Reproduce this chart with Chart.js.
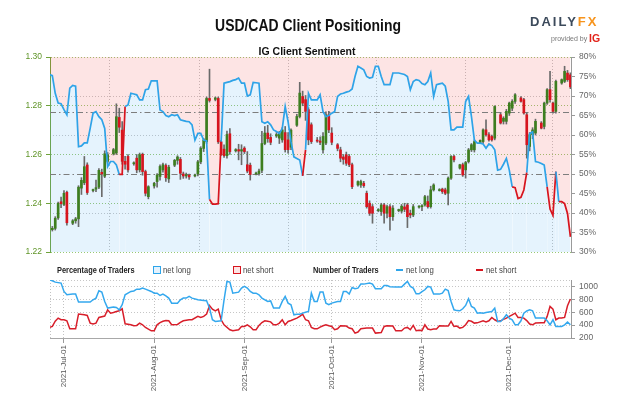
<!DOCTYPE html>
<html><head><meta charset="utf-8">
<script src="https://cdn.jsdelivr.net/npm/chart.js@4.4.1/dist/chart.umd.min.js"></script>
<style>
html,body{margin:0;padding:0;background:#fff;}
#wrap{position:relative;width:624px;height:416px;overflow:hidden;background:#fff;}
canvas{position:absolute;left:0;top:0;}
.t{position:absolute;white-space:nowrap;line-height:1;font-family:'Liberation Sans',Arial,sans-serif;}
.n{transform-origin:0 50%;transform:scaleX(0.82);}
.sw{position:absolute;box-sizing:border-box;}
</style></head><body>
<div id="wrap">
<canvas id="c1" width="624" height="416"></canvas>
<canvas id="c2" width="624" height="416"></canvas>
<div class="t" style="left:307.5px;top:16.5px;transform:translateX(-50%) scaleX(0.82);font-size:17px;font-weight:bold;color:#111;">USD/CAD Client Positioning</div>
<div class="t" style="left:307px;top:45.5px;transform:translateX(-50%);font-size:10.5px;font-weight:bold;color:#111;">IG Client Sentiment</div>
<div class="t" style="left:530px;top:15px;font-size:13px;font-weight:bold;letter-spacing:2px;color:#3c4a5b;">DAILY<span style="color:#f7941d">FX</span></div>
<div class="t" style="left:551px;top:34.5px;font-size:7px;color:#777;">provided by</div>
<div class="t" style="left:589px;top:32.5px;font-size:10.5px;font-weight:bold;color:#e2231a;">IG</div>

<div class="t n" style="left:57px;top:265.5px;font-size:9px;font-weight:bold;color:#222;">Percentage of Traders</div>
<div class="sw" style="left:153px;top:266px;width:8px;height:8px;border:1.5px solid #2da5ea;background:#e4f2fd;"></div>
<div class="t n" style="left:163px;top:265.2px;font-size:9.5px;color:#444;">net long</div>
<div class="sw" style="left:233px;top:266px;width:8px;height:8px;border:1.5px solid #d7141e;background:#fde4e4;"></div>
<div class="t n" style="left:243px;top:265.2px;font-size:9.5px;color:#444;">net short</div>
<div class="t n" style="left:313px;top:265.5px;font-size:9px;font-weight:bold;color:#222;">Number of Traders</div>
<div class="sw" style="left:396px;top:269px;width:7px;height:2px;background:#2da5ea;"></div>
<div class="t n" style="left:406px;top:265.2px;font-size:9.5px;color:#444;">net long</div>
<div class="sw" style="left:476px;top:269px;width:7px;height:2px;background:#d7141e;"></div>
<div class="t n" style="left:486px;top:265.2px;font-size:9.5px;color:#444;">net short</div>
</div>
<script>
// ---------------- DATA ----------------
const monthTickDates = ['07-01','08-01','09-01','10-01','11-01','12-01'];
const monthTickLabels = ['2021-Jul-01','2021-Aug-01','2021-Sep-01','2021-Oct-01','2021-Nov-01','2021-Dec-01'];
const priceTicks = [1.22,1.24,1.26,1.28,1.30];
const pctTicks = [30,35,40,45,50,55,60,65,70,75,80];
const pctGrid = [40,60,70];
const pctRefLines = [50,66];
const countTicks = [200,400,600,800,1000];

// USD/CAD daily candles (2021)
const candleDates = [
'06-27','06-28','06-29','06-30','07-01','07-02',
'07-04','07-05','07-06','07-07','07-08','07-09',
'07-11','07-12','07-13','07-14','07-15','07-16',
'07-18','07-19','07-20','07-21','07-22','07-23',
'07-25','07-26','07-27','07-28','07-29','07-30',
'08-01','08-02','08-03','08-04','08-05','08-06',
'08-08','08-09','08-10','08-11','08-12','08-13',
'08-15','08-16','08-17','08-18','08-19','08-20',
'08-22','08-23','08-24','08-25','08-26','08-27',
'08-29','08-30','08-31','09-01','09-02','09-03',
'09-05','09-06','09-07','09-08','09-09','09-10',
'09-12','09-13','09-14','09-15','09-16','09-17',
'09-19','09-20','09-21','09-22','09-23','09-24',
'09-26','09-27','09-28','09-29','09-30','10-01',
'10-03','10-04','10-05','10-06','10-07','10-08',
'10-10','10-11','10-12','10-13','10-14','10-15',
'10-17','10-18','10-19','10-20','10-21','10-22',
'10-24','10-25','10-26','10-27','10-28','10-29',
'10-31','11-01','11-02','11-03','11-04','11-05',
'11-07','11-08','11-09','11-10','11-11','11-12',
'11-14','11-15','11-16','11-17','11-18','11-19',
'11-21','11-22','11-23','11-24','11-25','11-26',
'11-28','11-29','11-30','12-01','12-02','12-03',
'12-05','12-06','12-07','12-08','12-09','12-10',
'12-12','12-13','12-14','12-15','12-16','12-17',
'12-19','12-20','12-21','12-22'];
const candleOpen = [
1.2292,1.2297,1.2340,1.2406,1.2395,1.2445,
1.2318,1.2328,1.2336,1.2462,1.2484,1.2557,
1.2452,1.2458,1.2466,1.2527,1.2511,1.2572,
1.2603,1.2606,1.2752,1.2700,1.2572,1.2592,
1.2562,1.2585,1.2537,1.2601,1.2530,1.2427,
1.2471,1.2489,1.2510,1.2537,1.2555,1.2500,
1.2556,1.2576,1.2580,1.2520,1.2512,1.2515,
1.2512,1.2520,1.2570,1.2625,1.2652,1.2830,
1.2826,1.2830,1.2652,1.2622,1.2595,1.2685,
1.2615,1.2620,1.2614,1.2626,1.2558,1.2556,
1.2520,1.2522,1.2535,1.2645,1.2688,1.2670,
1.2676,1.2667,1.2660,1.2690,1.2660,1.2630,
1.2720,1.2756,1.2838,1.2825,1.2784,1.2722,
1.2658,1.2655,1.2619,1.2647,1.2763,1.2688,
1.2640,1.2619,1.2590,1.2599,1.2592,1.2558,
1.2475,1.2475,1.2482,1.2441,1.2400,1.2386,
1.2370,1.2366,1.2393,1.2359,1.2386,1.2345,
1.2370,1.2368,1.2385,1.2393,1.2359,1.2352,
1.2384,1.2386,1.2393,1.2407,1.2386,1.2455,
1.2452,1.2458,1.2455,1.2441,1.2503,1.2592,
1.2544,1.2558,1.2537,1.2571,1.2619,1.2619,
1.2649,1.2653,1.2701,1.2681,1.2674,1.2667,
1.2763,1.2736,1.2736,1.2770,1.2790,1.2818,
1.2832,1.2825,1.2763,1.2633,1.2681,1.2688,
1.2729,1.2715,1.2811,1.2866,1.2811,1.2777,
1.2893,1.2900,1.2934,1.2927];
const candleHigh = [
1.2305,1.2345,1.2405,1.2425,1.2452,1.2450,
1.2333,1.2342,1.2472,1.2505,1.2592,1.2566,
1.2458,1.2495,1.2542,1.2540,1.2615,1.2608,
1.2625,1.2808,1.2790,1.2735,1.2592,1.2600,
1.2570,1.2600,1.2606,1.2606,1.2536,1.2472,
1.2486,1.2522,1.2558,1.2565,1.2562,1.2556,
1.2580,1.2595,1.2588,1.2528,1.2524,1.2520,
1.2520,1.2576,1.2632,1.2666,1.2836,1.2950,
1.2836,1.2836,1.2658,1.2640,1.2696,1.2706,
1.2624,1.2642,1.2640,1.2632,1.2612,1.2565,
1.2528,1.2540,1.2695,1.2715,1.2720,1.2685,
1.2690,1.2695,1.2710,1.2715,1.2690,1.2705,
1.2765,1.2896,1.2860,1.2842,1.2792,1.2730,
1.2670,1.2672,1.2690,1.2775,1.2777,1.2710,
1.2645,1.2630,1.2600,1.2610,1.2600,1.2565,
1.2492,1.2495,1.2490,1.2450,1.2410,1.2395,
1.2378,1.2400,1.2400,1.2392,1.2395,1.2390,
1.2376,1.2395,1.2400,1.2400,1.2372,1.2395,
1.2390,1.2395,1.2432,1.2430,1.2470,1.2480,
1.2460,1.2462,1.2462,1.2508,1.2596,1.2598,
1.2560,1.2565,1.2572,1.2625,1.2645,1.2660,
1.2660,1.2705,1.2742,1.2690,1.2680,1.2800,
1.2770,1.2755,1.2785,1.2815,1.2825,1.2850,
1.2838,1.2830,1.2770,1.2690,1.2710,1.2745,
1.2735,1.2815,1.2870,1.2941,1.2815,1.2905,
1.2910,1.2962,1.2945,1.2935];
const candleLow = [
1.2286,1.2290,1.2334,1.2382,1.2390,1.2310,
1.2312,1.2318,1.2304,1.2436,1.2476,1.2436,
1.2446,1.2447,1.2460,1.2427,1.2505,1.2565,
1.2598,1.2600,1.2690,1.2560,1.2540,1.2528,
1.2556,1.2525,1.2528,1.2515,1.2430,1.2418,
1.2462,1.2466,1.2495,1.2528,1.2490,1.2485,
1.2550,1.2560,1.2498,1.2502,1.2503,1.2498,
1.2508,1.2512,1.2562,1.2612,1.2645,1.2815,
1.2820,1.2645,1.2596,1.2588,1.2585,1.2600,
1.2610,1.2578,1.2558,1.2604,1.2525,1.2495,
1.2516,1.2515,1.2525,1.2640,1.2650,1.2640,
1.2670,1.2645,1.2650,1.2610,1.2605,1.2620,
1.2715,1.2750,1.2800,1.2740,1.2640,1.2645,
1.2650,1.2640,1.2605,1.2640,1.2690,1.2640,
1.2615,1.2570,1.2560,1.2555,1.2550,1.2460,
1.2470,1.2465,1.2465,1.2380,1.2350,1.2318,
1.2365,1.2350,1.2318,1.2340,1.2290,1.2330,
1.2365,1.2360,1.2365,1.2300,1.2340,1.2345,
1.2380,1.2370,1.2388,1.2380,1.2380,1.2450,
1.2450,1.2440,1.2435,1.2393,1.2498,1.2570,
1.2540,1.2510,1.2503,1.2565,1.2612,1.2610,
1.2645,1.2645,1.2675,1.2655,1.2655,1.2660,
1.2725,1.2725,1.2725,1.2760,1.2780,1.2810,
1.2815,1.2765,1.2585,1.2615,1.2665,1.2680,
1.2705,1.2705,1.2805,1.2815,1.2770,1.2770,
1.2888,1.2895,1.2900,1.2870];
const candleClose = [
1.2297,1.2338,1.2400,1.2398,1.2441,1.2320,
1.2328,1.2336,1.2466,1.2494,1.2550,1.2444,
1.2455,1.2464,1.2535,1.2520,1.2603,1.2598,
1.2620,1.2755,1.2712,1.2572,1.2560,1.2537,
1.2565,1.2537,1.2599,1.2530,1.2441,1.2468,
1.2482,1.2516,1.2551,1.2558,1.2505,1.2548,
1.2576,1.2590,1.2523,1.2512,1.2517,1.2508,
1.2516,1.2570,1.2625,1.2660,1.2830,1.2822,
1.2832,1.2652,1.2600,1.2595,1.2682,1.2612,
1.2620,1.2614,1.2620,1.2612,1.2532,1.2518,
1.2524,1.2532,1.2645,1.2688,1.2665,1.2650,
1.2682,1.2688,1.2701,1.2620,1.2620,1.2700,
1.2756,1.2852,1.2811,1.2777,1.2660,1.2653,
1.2655,1.2650,1.2674,1.2763,1.2701,1.2650,
1.2625,1.2585,1.2580,1.2564,1.2558,1.2468,
1.2489,1.2489,1.2472,1.2386,1.2359,1.2359,
1.2374,1.2393,1.2359,1.2386,1.2345,1.2380,
1.2373,1.2388,1.2375,1.2345,1.2352,1.2386,
1.2387,1.2390,1.2427,1.2386,1.2455,1.2475,
1.2455,1.2448,1.2441,1.2503,1.2592,1.2578,
1.2558,1.2516,1.2567,1.2619,1.2640,1.2653,
1.2658,1.2701,1.2681,1.2660,1.2660,1.2797,
1.2729,1.2749,1.2777,1.2811,1.2818,1.2845,
1.2818,1.2770,1.2640,1.2681,1.2701,1.2736,
1.2708,1.2811,1.2866,1.2825,1.2777,1.2900,
1.2907,1.2941,1.2907,1.2877];

// IG client sentiment: % of traders net long, daily from 2021-06-26
const sentimentStart = '06-26';
const sentimentPct = [
75.5,75.2,70.7,68.2,68.0,66.5,65.2,72.0,72.7,72.5,
57.0,57.2,58.0,58.0,61.7,65.6,66.0,64.7,63.9,61.7,
51.9,53.2,53.2,52.3,49.9,49.9,67.3,67.7,70.7,70.5,
70.3,69.0,69.0,71.6,71.8,73.9,73.9,73.9,66.4,66.0,
65.0,64.7,65.2,65.0,65.2,63.9,63.7,63.5,63.4,62.6,
58.7,60.4,60.4,58.7,58.5,43.5,42.3,42.3,42.4,58.3,
73.3,73.5,73.7,74.0,74.2,74.6,73.3,73.3,70.0,70.3,
73.5,73.4,73.3,63.4,63.0,63.4,62.6,61.3,60.9,60.4,
61.7,67.3,63.4,58.3,54.4,54.0,53.6,49.5,56.2,70.7,
69.0,69.0,69.0,70.3,66.0,64.7,65.0,65.6,66.0,69.9,
70.5,70.7,71.0,71.2,71.8,75.0,77.6,77.2,76.7,75.0,
74.6,74.8,77.6,77.6,75.0,72.9,72.9,72.9,75.9,75.9,
75.9,75.7,75.5,75.0,71.6,73.7,74.2,74.0,73.2,72.9,
73.7,75.9,69.9,72.9,73.1,73.3,72.5,68.6,61.3,61.3,
62.0,62.0,62.0,68.6,69.9,64.7,58.7,57.9,57.9,57.7,
56.6,57.7,57.3,56.2,51.0,51.2,52.5,54.0,51.0,46.7,
46.5,43.7,44.0,45.9,50.4,60.4,60.8,53.2,53.0,52.7,
52.3,46.7,41.0,39.4,50.6,42.9,42.9,42.4,39.9,33.9];

// Number of traders (days after 2021-07-01)
const longDays = [-5,-4,-3,-1,0,1,3,4,5,7,9,10,11,12,13,14,15,17,18,19,20,21,23,24,25,26,27,28,30,31,32,33,34,35,36,37,39,40,41,42,43,44,46,48,49,50,51,52,54,55,56,57,58,60,61,62,63,64,65,66,67,68,70,71,72,74,75,76,77,78,79,80,81,82,83,84,85,86,87,88,89,90,91,92,94,95,96,97,98,99,100,101,102,103,105,106,107,109,110,111,112,114,116,117,118,119,120,121,122,123,124,125,126,127,129,130,131,132,133,134,135,136,137,138,139,140,141,142,143,144,145,147,148,149,150,151,152,153,154,155,156,157,158,159,160,161,162,164,165,166,167,168,169,171,172,173,174];
const longCount = [1103,1088,1067,1052,922,871,881,881,757,757,757,793,819,933,912,767,664,679,674,638,716,871,922,930,958,958,974,958,922,896,896,860,881,855,819,741,741,793,819,819,845,819,793,783,778,664,483,457,467,793,1077,1067,896,912,974,1000,974,922,896,896,871,819,767,775,664,664,767,845,741,716,560,570,570,586,600,612,896,767,767,912,912,741,716,741,767,767,922,922,881,984,964,974,1036,1036,1052,1036,964,964,1015,1015,995,990,990,1036,1077,1000,974,886,886,920,948,1000,990,881,881,896,958,938,767,638,625,622,653,705,809,690,664,586,590,586,597,612,664,457,457,500,560,509,483,405,405,467,586,620,638,622,509,509,509,467,405,483,380,380,405,447,405];
const shortDays = [-5,-4,-3,-2,-1,0,1,2,4,5,7,8,9,10,11,12,14,15,16,17,18,19,20,21,23,24,25,26,27,28,30,31,32,33,34,35,36,37,39,40,41,43,44,46,47,48,49,50,51,52,53,54,55,57,58,60,61,62,63,64,65,66,67,68,69,70,71,72,73,74,75,76,77,78,80,81,82,83,84,85,86,87,88,89,90,91,92,93,94,95,97,98,99,100,101,102,104,106,107,109,110,111,113,114,116,117,118,119,120,121,122,123,124,125,126,127,128,129,131,132,133,134,135,136,137,138,139,140,141,142,144,145,146,147,148,149,150,151,152,153,154,155,156,157,158,159,160,161,162,164,165,166,167,168,169,170,171,172,173,174];
const shortCount = [364,380,460,509,483,483,467,343,343,571,560,550,431,416,431,519,540,638,586,597,610,622,653,421,405,390,395,431,405,364,312,312,405,440,460,472,467,405,410,441,467,483,483,535,519,535,570,705,648,622,648,483,405,328,312,328,380,380,405,374,328,328,395,440,467,460,450,405,405,431,483,405,457,472,509,535,571,483,467,364,343,343,370,390,405,390,380,328,343,390,385,354,343,276,292,343,354,354,276,286,380,390,385,312,312,354,364,328,395,312,320,315,405,340,328,340,340,390,385,385,457,380,385,354,365,405,470,460,431,435,467,450,467,519,483,457,467,490,509,535,560,586,519,519,509,470,416,405,431,435,435,535,690,648,483,509,509,520,700,804];

// ---------------- BUILD ----------------
const FONT = "'Liberation Sans',Arial,sans-serif";
Chart.defaults.font.family = FONT;
Chart.defaults.font.size = 8;
Chart.defaults.color = '#666';
const X_MIN = -4.8, X_MAX = 174.2;
const BLUE = '#2ea3e8', RED = '#d7141e', GREEN = '#3d7e1f', WICK = '#6a6a6a';
const DAY0 = Date.UTC(2021, 6, 1);
const dayOf = s => { const [m, d] = s.split('-').map(Number); return Math.round((Date.UTC(2021, m - 1, d) - DAY0) / 864e5); };
const monthDays = monthTickDates.map(dayOf);
const candleX = candleDates.map(dayOf);
const wickData = candleX.map((x, i) => ({x, y: [candleLow[i], candleHigh[i]]}));
const bodyData = candleX.map((x, i) => ({x, y: [candleOpen[i], candleClose[i]]}));
const s0 = dayOf(sentimentStart);
const sentData = sentimentPct.map((v, i) => ({x: s0 + i, y: v}));
const longData = longDays.map((x, i) => ({x, y: longCount[i]}));
const shortData = shortDays.map((x, i) => ({x, y: shortCount[i]}));
const asTicks = arr => arr.map(v => ({value: v}));
const monthLabel = v => { const i = monthDays.indexOf(v); return i >= 0 ? monthTickLabels[i] : ''; };

const refPlugin = {
  id: 'refLines',
  beforeDatasetsDraw(chart) {
    const {ctx, chartArea: a, scales} = chart;
    ctx.save();
    ctx.strokeStyle = '#7d7d7d'; ctx.lineWidth = 1.2; ctx.setLineDash([6, 3, 1.5, 3]);
    pctRefLines.forEach(v => {
      const y = Math.round(scales.pct.getPixelForValue(v)) + 0.5;
      ctx.beginPath(); ctx.moveTo(a.left, y); ctx.lineTo(a.right, y); ctx.stroke();
    });
    ctx.restore();
  }
};

new Chart(document.getElementById('c1'), {
  type: 'line',
  data: {datasets: [
    {type: 'line', data: sentData, yAxisID: 'pct', borderColor: BLUE, borderWidth: 1.7, pointRadius: 0,
     fill: 'start', backgroundColor: 'rgba(68,168,242,0.14)', order: 0,
     segment: {borderColor: c => c.p0.parsed.y < 50 ? RED : BLUE}},
    {type: 'line', data: sentData, yAxisID: 'pct', borderWidth: 0, borderColor: 'rgba(0,0,0,0)', pointRadius: 0,
     fill: 'end', backgroundColor: 'rgba(242,75,75,0.15)', order: 5},
    {type: 'bar', data: bodyData, yAxisID: 'price', grouped: false, barThickness: 2, minBarLength: 1, borderWidth: 0,
     backgroundColor: c => (c.raw && c.raw.y[1] >= c.raw.y[0]) ? GREEN : RED, order: 1},
    {type: 'bar', data: wickData, yAxisID: 'price', grouped: false, barThickness: 1, borderWidth: 0,
     backgroundColor: WICK, order: 2}
  ]},
  options: {
    responsive: false, animation: false, events: [],
    layout: {padding: {top: 57, bottom: 164, left: 0, right: 0}},
    plugins: {legend: {display: false}, tooltip: {enabled: false}, filler: {drawTime: 'beforeDatasetsDraw'}},
    scales: {
      x: {type: 'linear', min: X_MIN, max: X_MAX, offset: false,
          afterBuildTicks: s => { s.ticks = asTicks(monthDays); },
          ticks: {display: false}, grid: {color: '#c2c2c2', drawTicks: false},
          border: {display: false, dash: [1, 2]}, afterFit: s => { s.height = 0; }},
      price: {type: 'linear', position: 'left', min: 1.22, max: 1.30,
          afterBuildTicks: s => { s.ticks = asTicks(priceTicks); },
          ticks: {color: '#5e9426', padding: 4, font: {size: 8.5}, autoSkip: false, callback: v => v.toFixed(2)},
          grid: {color: '#98c873', tickColor: '#6fa23a', tickLength: 4, tickBorderDash: []},
          border: {display: true, color: '#6fa23a', width: 1, dash: [1, 2]},
          afterFit: s => { s.width = 50; }},
      pct: {type: 'linear', position: 'right', min: 30, max: 80,
          afterBuildTicks: s => { s.ticks = asTicks(pctTicks); },
          ticks: {color: '#666', padding: 4, font: {size: 8.5}, autoSkip: false, callback: v => v + '%'},
          grid: {color: c => pctGrid.includes(c.tick && c.tick.value) ? '#c6c6c6' : 'rgba(0,0,0,0)',
                 tickColor: '#9a9a9a', tickLength: 4, tickBorderDash: []},
          border: {display: true, color: '#9a9a9a', width: 1, dash: [1, 2]},
          afterFit: s => { s.width = 53; }}
    }
  },
  plugins: [refPlugin]
});

const framePlugin = {
  id: 'frame2',
  beforeDatasetsDraw(chart) {
    const {ctx, chartArea: a} = chart;
    ctx.save(); ctx.strokeStyle = '#c2c2c2'; ctx.lineWidth = 1; ctx.setLineDash([1, 2]);
    ctx.beginPath(); ctx.moveTo(a.left + 0.5, a.top); ctx.lineTo(a.left + 0.5, a.bottom); ctx.stroke();
    ctx.restore();
  }
};

new Chart(document.getElementById('c2'), {
  type: 'line',
  data: {datasets: [
    {data: longData, yAxisID: 'num', borderColor: '#34a8ee', borderWidth: 1.5, pointRadius: 0, fill: false},
    {data: shortData, yAxisID: 'num', borderColor: '#d81e2a', borderWidth: 1.5, pointRadius: 0, fill: false}
  ]},
  options: {
    responsive: false, animation: false, events: [],
    layout: {padding: {top: 280, left: 50, right: 0, bottom: 0}},
    plugins: {legend: {display: false}, tooltip: {enabled: false}},
    scales: {
      x: {type: 'linear', min: X_MIN, max: X_MAX, offset: false,
          afterBuildTicks: s => { s.ticks = asTicks(monthDays); },
          ticks: {color: '#555', minRotation: 90, maxRotation: 90, autoSkip: false, padding: 2, font: {size: 8},
                  callback: monthLabel},
          grid: {color: '#c2c2c2', tickColor: '#9a9a9a', tickLength: 5, tickBorderDash: []},
          border: {display: true, color: '#a8a8a8', width: 1, dash: [1, 2]},
          afterFit: s => { s.height = 78; }},
      num: {type: 'linear', position: 'right', min: 200, max: 1100,
          afterBuildTicks: s => { s.ticks = asTicks(countTicks.concat([1100])); },
          ticks: {color: '#666', padding: 4, font: {size: 8.5}, autoSkip: false,
                  callback: v => v === 1100 ? '' : String(v)},
          grid: {color: c => (c.tick && c.tick.value === 200) ? 'rgba(0,0,0,0)' : '#c6c6c6',
                 tickColor: c => (c.tick && c.tick.value === 1100) ? 'rgba(0,0,0,0)' : '#9a9a9a',
                 tickLength: 4, tickBorderDash: []},
          border: {display: true, color: '#9a9a9a', width: 1, dash: [1, 2]},
          afterFit: s => { s.width = 53; }}
    }
  },
  plugins: [framePlugin]
});
</script>
</body></html>
